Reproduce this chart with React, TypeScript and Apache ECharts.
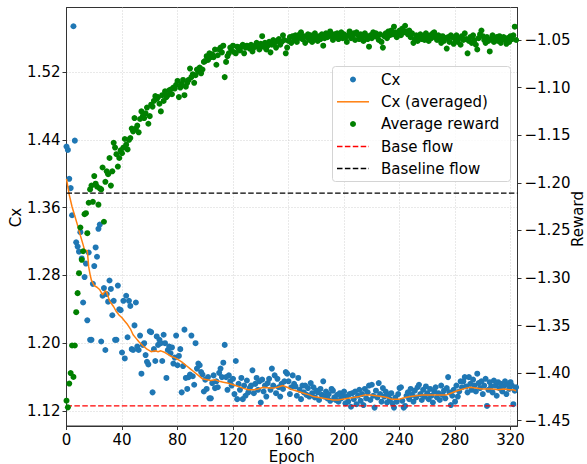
import React, { useEffect, useRef } from "react";
import * as echarts from "echarts";

// Cx per epoch (epoch = index)
const cxValues = [
  1.432,1.428,1.394,1.383,1.351,1.574,1.439,1.319,1.314,1.308,
  1.331,1.300,1.248,1.278,1.294,1.227,1.307,1.204,1.204,1.270,
  1.291,1.313,1.302,1.335,1.340,1.202,1.256,1.265,1.192,1.258,
  1.249,1.274,1.264,1.233,1.250,1.204,1.204,1.268,1.240,1.239,
  1.189,1.250,1.182,1.256,1.207,1.250,1.244,1.193,1.192,1.221,
  1.248,1.196,1.192,1.209,1.164,1.198,1.200,1.186,1.178,1.175,
  1.214,1.213,1.142,1.193,1.179,1.208,1.198,1.204,1.200,1.179,
  1.210,1.200,1.159,1.192,1.196,1.188,1.195,1.176,1.183,1.209,
  1.174,1.185,1.193,1.142,1.173,1.216,1.159,1.146,1.160,1.163,
  1.209,1.161,1.151,1.200,1.170,1.176,1.174,1.166,1.163,1.143,
  1.157,1.146,1.160,1.135,1.135,1.153,1.162,1.147,1.155,1.148,
  1.165,1.170,1.160,1.177,1.198,1.160,1.145,1.162,1.155,1.150,
  1.158,1.140,1.179,1.134,1.152,1.145,1.159,1.134,1.150,1.138,
  1.156,1.142,1.147,1.150,1.168,1.141,1.152,1.159,1.145,1.155,
  1.130,1.157,1.143,1.150,1.137,1.153,1.158,1.145,1.170,1.150,
  1.162,1.141,1.158,1.148,1.137,1.152,1.146,1.155,1.166,1.164,
  1.155,1.140,1.148,1.162,1.152,1.149,1.138,1.159,1.145,1.134,
  1.150,1.142,1.150,1.139,1.147,1.137,1.153,1.141,1.148,1.136,
  1.144,1.142,1.133,1.146,1.139,1.155,1.137,1.143,1.135,1.140,
  1.132,1.146,1.144,1.136,1.133,1.139,1.131,1.141,1.135,1.138,
  1.143,1.129,1.137,1.131,1.140,1.125,1.141,1.134,1.143,1.128,
  1.138,1.145,1.132,1.140,1.127,1.146,1.135,1.142,1.150,1.133,
  1.151,1.138,1.124,1.144,1.136,1.153,1.140,1.131,1.147,1.137,
  1.143,1.130,1.139,1.134,1.141,1.129,1.124,1.136,1.131,1.140,
  1.147,1.148,1.132,1.124,1.126,1.138,1.142,1.134,1.146,1.139,
  1.131,1.144,1.136,1.148,1.151,1.140,1.133,1.145,1.137,1.149,
  1.141,1.134,1.146,1.138,1.130,1.143,1.148,1.136,1.141,1.133,
  1.150,1.139,1.144,1.135,1.147,1.160,1.142,1.127,1.138,1.145,
  1.131,1.150,1.137,1.143,1.155,1.148,1.155,1.160,1.149,1.142,
  1.160,1.152,1.145,1.157,1.150,1.143,1.164,1.153,1.147,1.155,
  1.140,1.150,1.158,1.126,1.145,1.154,1.149,1.142,1.156,1.150,
  1.138,1.154,1.147,1.152,1.143,1.149,1.155,1.140,1.151,1.146,
  1.154,1.150,1.128,1.144,1.148,
];

// Average reward per epoch (epoch = index)
const rewardValues = [
  -1.429,-1.436,-1.411,-1.400,-1.371,-1.404,-1.371,-1.336,-1.316,-1.295,
  -1.247,-1.281,-1.272,-1.233,-1.232,-1.253,-1.221,-1.207,-1.203,-1.220,
  -1.193,-1.201,-1.204,-1.223,-1.206,-1.207,-1.184,-1.241,-1.199,-1.188,
  -1.191,-1.174,-1.203,-1.188,-1.158,-1.163,-1.170,-1.183,-1.174,-1.166,
  -1.169,-1.163,-1.154,-1.160,-1.165,-1.155,-1.153,-1.143,-1.146,-1.132,
  -1.143,-1.140,-1.147,-1.133,-1.125,-1.130,-1.132,-1.127,-1.121,-1.138,
  -1.130,-1.118,-1.120,-1.114,-1.109,-1.112,-1.110,-1.117,-1.125,-1.108,
  -1.114,-1.104,-1.110,-1.108,-1.103,-1.102,-1.107,-1.100,-1.101,-1.097,
  -1.093,-1.110,-1.100,-1.096,-1.092,-1.108,-1.099,-1.095,-1.092,-1.080,
  -1.089,-1.086,-1.095,-1.087,-1.081,-1.083,-1.079,-1.085,-1.081,-1.073,
  -1.072,-1.067,-1.071,-1.064,-1.068,-1.065,-1.068,-1.060,-1.076,-1.066,
  -1.060,-1.058,-1.063,-1.056,-1.089,-1.073,-1.067,-1.064,-1.058,-1.061,
  -1.056,-1.063,-1.064,-1.057,-1.059,-1.061,-1.057,-1.055,-1.064,-1.058,
  -1.056,-1.057,-1.059,-1.055,-1.062,-1.058,-1.056,-1.053,-1.057,-1.060,
  -1.054,-1.046,-1.057,-1.053,-1.060,-1.056,-1.052,-1.063,-1.055,-1.050,
  -1.053,-1.058,-1.051,-1.049,-1.055,-1.052,-1.045,-1.050,-1.064,-1.058,
  -1.051,-1.047,-1.053,-1.046,-1.050,-1.045,-1.052,-1.048,-1.044,-1.042,
  -1.049,-1.046,-1.053,-1.047,-1.044,-1.050,-1.045,-1.052,-1.048,-1.043,
  -1.047,-1.051,-1.046,-1.049,-1.044,-1.056,-1.048,-1.043,-1.047,-1.044,
  -1.041,-1.046,-1.050,-1.044,-1.047,-1.043,-1.049,-1.045,-1.042,-1.048,
  -1.044,-1.047,-1.052,-1.045,-1.041,-1.048,-1.046,-1.043,-1.050,-1.042,
  -1.045,-1.049,-1.044,-1.047,-1.051,-1.043,-1.046,-1.049,-1.057,-1.045,
  -1.048,-1.042,-1.046,-1.043,-1.047,-1.050,-1.044,-1.052,-1.058,-1.046,
  -1.043,-1.048,-1.041,-1.045,-1.040,-1.044,-1.036,-1.042,-1.047,-1.043,
  -1.040,-1.045,-1.038,-1.042,-1.035,-1.041,-1.044,-1.040,-1.047,-1.043,
  -1.053,-1.049,-1.045,-1.051,-1.047,-1.044,-1.049,-1.046,-1.050,-1.043,
  -1.047,-1.051,-1.045,-1.048,-1.043,-1.042,-1.047,-1.050,-1.045,-1.049,
  -1.053,-1.046,-1.051,-1.048,-1.059,-1.047,-1.052,-1.045,-1.047,-1.054,
  -1.049,-1.045,-1.052,-1.048,-1.055,-1.046,-1.050,-1.043,-1.049,-1.064,
  -1.051,-1.047,-1.053,-1.045,-1.050,-1.055,-1.060,-1.048,-1.044,-1.040,
  -1.046,-1.050,-1.053,-1.047,-1.051,-1.062,-1.049,-1.045,-1.052,-1.048,
  -1.047,-1.051,-1.046,-1.053,-1.049,-1.047,-1.050,-1.054,-1.048,-1.052,
  -1.046,-1.049,-1.045,-1.036,-1.050,
];

// Averaged Cx curve
const avgEpochs = [
  0,2,4,6,8,10,12,13,15,16,17,18,20,22,24,26,28,29,31,34,36,38,40,42,44,46,48,50,52,55,
  58,61,64,66,68,71,74,76,78,81,83,86,89,92,95,98,101,104,107,110,113,116,120,124,127,131,135,138,142,146,
  149,152,156,159,163,167,171,175,178,182,185,189,192,196,199,203,207,211,215,219,223,227,231,234,237,240,244,248,252,256,
  260,265,270,274,277,280,284,288,291,295,299,303,307,311,315,319,322,324,
];
const avgCxValues = [
  1.394,1.375,1.361,1.350,1.339,1.327,1.316,1.310,1.309,1.290,1.281,1.274,1.268,1.266,1.263,1.257,1.262,1.260,1.250,1.243,1.237,1.233,1.230,1.226,1.222,1.217,1.210,1.206,1.202,1.197,
  1.193,1.190,1.191,1.190,1.191,1.189,1.186,1.184,1.183,1.180,1.178,1.174,1.170,1.166,1.162,1.158,1.157,1.156,1.157,1.155,1.154,1.153,1.151,1.149,1.147,1.145,1.145,1.146,1.148,1.147,
  1.147,1.148,1.150,1.148,1.145,1.143,1.141,1.139,1.137,1.136,1.135,1.134,1.133,1.133,1.134,1.135,1.136,1.137,1.139,1.139,1.138,1.137,1.136,1.134,1.134,1.134,1.136,1.137,1.138,1.139,
  1.139,1.139,1.139,1.139,1.141,1.143,1.145,1.147,1.148,1.147,1.146,1.146,1.146,1.145,1.146,1.145,1.145,1.144,
];

const baseFlowCx = 1.126;
const baselineFlowCx = 1.377;

const cxTicks = [1.12, 1.2, 1.28, 1.36, 1.44, 1.52];
const rewardTicks = [-1.45, -1.4, -1.35, -1.3, -1.25, -1.2, -1.15, -1.1, -1.05];
const epochTicks = [0, 40, 80, 120, 160, 200, 240, 280, 320];

const legendLabels = ["Cx", "Cx (averaged)", "Average reward", "Base flow", "Baseline flow"];
const axisTitles = { x: "Epoch", left: "Cx", right: "Reward" };

const FONT = "DejaVu Sans";
const BLUE = "#1f77b4";
const ORANGE = "#ff7f0e";
const GREEN = "#008000";
const GRIDC = "#c8c8c8";
const SPINE = "#333333";

export default function App() {
  const ref = useRef<HTMLDivElement>(null);
  useEffect(() => {
    if (!ref.current) return;
    const chart = echarts.init(ref.current, undefined, { renderer: "svg" });
    const xMin = 0, xMax = 325;
    const cxData = cxValues.map((v, i) => [i, v]);
    const rwData = rewardValues.map((v, i) => [i, v]);
    const avgData = avgEpochs.map((e, i) => [e, avgCxValues[i]]);
    const lx = 337, lxe = 369, tx = 381;
    const ly = [79.5, 101.8, 124, 146.5, 168.5];
    const titleStyle = { fontFamily: FONT, fontSize: 15, fill: "#000", align: "center", verticalAlign: "middle" };
    const option: any = {
      animation: false,
      backgroundColor: "#fff",
      grid: { left: 66.5, right: 69.5, top: 7.5, bottom: 38, containLabel: false, outerBoundsMode: "none", show: true, borderColor: SPINE, borderWidth: 1, backgroundColor: "transparent" },
      xAxis: {
        type: "value", min: xMin, max: xMax,
        axisLine: { show: true, onZero: false, lineStyle: { color: SPINE, width: 1 } },
        axisTick: { show: true, length: 4, lineStyle: { color: SPINE }, customValues: epochTicks },
        axisLabel: { fontFamily: FONT, fontSize: 15, color: "#000", margin: 6, customValues: epochTicks, formatter: (v: number) => String(v) },
        splitLine: { show: true, lineStyle: { color: GRIDC, type: [1, 2], width: 0.8 } },
      },
      yAxis: [
        {
          type: "value", min: 1.1023, max: 1.5961, position: "left",
          axisLine: { show: true, onZero: false, lineStyle: { color: SPINE, width: 1 } },
          axisTick: { show: true, length: 4, lineStyle: { color: SPINE }, customValues: cxTicks },
          axisLabel: { fontFamily: FONT, fontSize: 15, color: "#000", margin: 6, customValues: cxTicks, formatter: (v: number) => v.toFixed(2) },
          splitLine: { show: true, lineStyle: { color: GRIDC, type: [1, 2], width: 0.8 } },
        },
        {
          type: "value", min: -1.4556, max: -1.01585, position: "right",
          axisLine: { show: true, onZero: false, lineStyle: { color: SPINE, width: 1 } },
          axisTick: { show: true, length: 4, lineStyle: { color: SPINE }, customValues: rewardTicks },
          axisLabel: { fontFamily: FONT, fontSize: 15, color: "#000", margin: 7, customValues: rewardTicks, formatter: (v: number) => "\u2212" + Math.abs(v).toFixed(2) },
          splitLine: { show: false },
        },
      ],
      series: [
        { name: legendLabels[0], type: "scatter", yAxisIndex: 0, data: cxData, symbolSize: 6, itemStyle: { color: BLUE, opacity: 1 }, z: 2 },
        { name: legendLabels[1], type: "line", yAxisIndex: 0, data: avgData, showSymbol: false, symbol: "none", lineStyle: { color: ORANGE, width: 1.5 }, z: 3 },
        { name: legendLabels[3], type: "line", yAxisIndex: 0, data: [[xMin, baseFlowCx], [xMax, baseFlowCx]], showSymbol: false, symbol: "none", lineStyle: { color: "#ff0000", width: 1.3, type: [5.5, 2.4] }, z: 3 },
        { name: legendLabels[4], type: "line", yAxisIndex: 0, data: [[xMin, baselineFlowCx], [xMax, baselineFlowCx]], showSymbol: false, symbol: "none", lineStyle: { color: "#000", width: 1.3, type: [5.5, 2.4] }, z: 3 },
        { name: legendLabels[2], type: "scatter", yAxisIndex: 1, data: rwData, symbolSize: 6, itemStyle: { color: GREEN, opacity: 1 }, z: 4 },
      ],
      graphic: [
        { type: "text", z: 50, x: 291.7, y: 456.5, style: { ...titleStyle, text: axisTitles.x } },
        { type: "text", z: 50, x: 15.5, y: 217.5, rotation: Math.PI / 2, style: { ...titleStyle, text: axisTitles.left } },
        { type: "text", z: 50, x: 577.5, y: 219, rotation: Math.PI / 2, style: { ...titleStyle, text: axisTitles.right } },
        { type: "rect", z: 100, shape: { x: 332.5, y: 66.5, width: 178, height: 115, r: 3 }, style: { fill: "rgba(255,255,255,0.8)", stroke: "#d4d4d4", lineWidth: 1 } },
        { type: "circle", z: 101, shape: { cx: (lx + lxe) / 2, cy: ly[0], r: 3 }, style: { fill: BLUE } },
        { type: "line", z: 101, shape: { x1: lx, y1: ly[1], x2: lxe, y2: ly[1] }, style: { stroke: ORANGE, lineWidth: 1.5 } },
        { type: "circle", z: 101, shape: { cx: (lx + lxe) / 2, cy: ly[2], r: 3 }, style: { fill: GREEN } },
        { type: "line", z: 101, shape: { x1: lx, y1: ly[3], x2: lxe, y2: ly[3] }, style: { stroke: "#ff0000", lineWidth: 1.3, lineDash: [5.5, 2.4] } },
        { type: "line", z: 101, shape: { x1: lx, y1: ly[4], x2: lxe, y2: ly[4] }, style: { stroke: "#000", lineWidth: 1.3, lineDash: [5.5, 2.4] } },
        ...legendLabels.map((t, i) => ({
          type: "text", z: 101, x: tx, y: ly[i],
          style: { text: t, fontFamily: FONT, fontSize: 15, fill: "#000", verticalAlign: "middle", align: "left" },
        })),
      ],
    };
    chart.setOption(option);
    return () => chart.dispose();
  }, []);
  return <div ref={ref} style={{ position: "absolute", left: 0, top: 0, width: 587, height: 464 }} />;
}
